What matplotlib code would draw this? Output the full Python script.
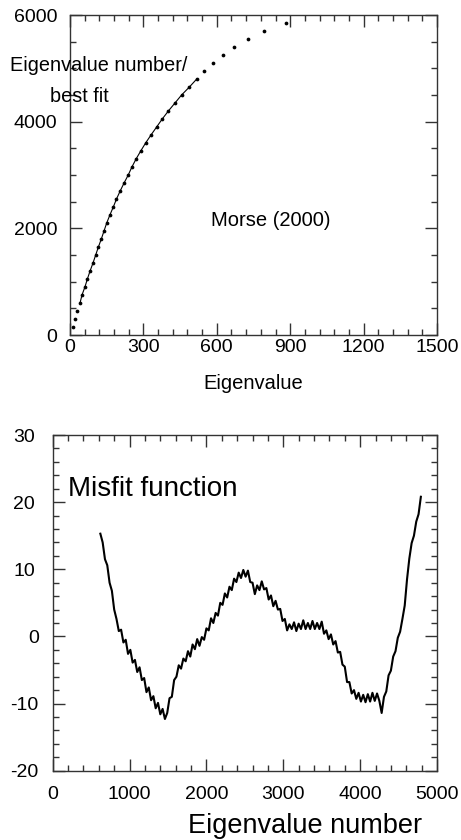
import numpy as np
import matplotlib
matplotlib.use("Agg")
import matplotlib.pyplot as plt
from matplotlib.ticker import MultipleLocator

plt.rcParams['font.family'] = ['Liberation Sans', 'DejaVu Sans']
plt.rcParams['axes.unicode_minus'] = False

# top panel: eigenvalue number vs eigenvalue (Morse 2000)
eig_count = [150, 300, 450, 600, 750, 900, 1050, 1200, 1350, 1500, 1650, 1800, 1950,
             2100, 2250, 2400, 2550, 2700, 2850, 3000, 3150, 3300, 3450, 3600, 3750,
             3900, 4050, 4200, 4350, 4500, 4650, 4800, 4950, 5100, 5250, 5400, 5550,
             5700, 5850]
eig_value = [11, 19, 30, 41, 49, 61, 71, 82, 94, 105, 116, 128, 139, 150, 163, 177,
             190, 205, 221, 238, 253, 270, 289, 309, 331, 354, 377, 402, 429, 456,
             488, 518, 549, 586, 624, 671, 726, 792, 883]
fit_first, fit_last = 3, 32   # best fit drawn over these points

# bottom panel: misfit function vs eigenvalue number
mis_n = np.arange(620, 4791, 30)
misfit = [15.3, 14.0, 11.5, 10.6, 8.0, 6.8, 4.0, 2.6, 0.8, 1.0,
          -0.9, -0.5, -2.6, -2.0, -3.9, -3.5, -5.3, -4.6, -6.5, -6.2,
          -8.3, -7.6, -9.5, -8.9, -10.7, -9.9, -11.6, -10.8, -12.3, -11.4,
          -9.2, -9.0, -6.5, -6.0, -4.3, -4.8, -3.3, -3.7, -2.2, -3.0,
          -1.2, -1.9, -0.4, -1.4, -0.1, -0.5, 1.2, 0.9, 2.7, 2.0,
          3.5, 3.1, 5.0, 4.7, 6.4, 5.8, 7.4, 6.9, 8.6, 8.1,
          9.5, 8.7, 9.9, 8.9, 9.8, 8.1, 8.0, 6.3, 7.6, 6.9,
          8.2, 7.0, 7.2, 5.5, 6.1, 4.5, 5.3, 4.0, 4.1, 2.3,
          2.6, 0.9, 1.8, 1.1, 2.1, 0.8, 1.9, 1.1, 2.4, 1.1,
          2.0, 1.1, 2.3, 1.1, 2.0, 1.1, 2.2, 0.4, 0.9, -0.4,
          0.3, -1.2, -0.7, -2.4, -2.3, -4.2, -4.5, -6.8, -6.8, -8.5,
          -8.0, -9.3, -8.4, -9.7, -8.7, -9.8, -8.6, -9.7, -8.4, -9.6,
          -8.5, -9.6, -11.4, -9.0, -8.2, -5.8, -5.1, -3.0, -2.2, -0.2,
          0.7, 2.6, 4.6, 8.5, 11.6, 13.9, 15.0, 17.1, 18.2, 20.8]

W, H = 461, 840
fig = plt.figure(figsize=(W / 100, H / 100), dpi=100)


def style(ax):
    for s in ax.spines.values():
        s.set_linewidth(1.0)
        s.set_color('#333333')
    ax.tick_params(which='both', direction='in', top=True, right=True,
                   color='#333333', width=1.0)
    ax.tick_params(which='major', length=8.5)
    ax.tick_params(which='minor', length=4.5)


# ---- top
ax1 = fig.add_axes([70 / W, 1 - 335 / H, 367 / W, 320 / H])
ax1.plot(eig_value[fit_first:fit_last], eig_count[fit_first:fit_last], color='black', lw=0.8)
ax1.plot(eig_value, eig_count, 'o', color='black', ms=2.7, mec='none')
ax1.set_xlim(0, 1500)
ax1.set_ylim(0, 6000)
ax1.xaxis.set_major_locator(MultipleLocator(300))
ax1.xaxis.set_minor_locator(MultipleLocator(60))
ax1.yaxis.set_major_locator(MultipleLocator(2000))
ax1.yaxis.set_minor_locator(MultipleLocator(500))
style(ax1)
ax1.tick_params(axis='x', which='major', labelsize=14, pad=3)
ax1.tick_params(axis='y', which='major', labelsize=14, pad=9)

fig.text(10 / W, 1 - 70.7 / H, 'Eigenvalue number/', fontsize=14.3, va='baseline')
fig.text(50 / W, 1 - 101.7 / H, 'best fit', fontsize=14.3, va='baseline')
fig.text(211 / W, 1 - 225.7 / H, 'Morse (2000)', fontsize=14.5, va='baseline')
fig.text(253 / W, 1 - 384 / H, 'Eigenvalue', fontsize=14.5, ha='center', va='center')

# ---- bottom
ax2 = fig.add_axes([52.7 / W, 1 - 770.7 / H, 384.3 / W, 335.7 / H])
ax2.plot(mis_n, misfit, color='black', lw=1.5)
ax2.set_xlim(0, 5000)
ax2.set_ylim(-20, 30)
ax2.xaxis.set_major_locator(MultipleLocator(1000))
ax2.xaxis.set_minor_locator(MultipleLocator(200))
ax2.yaxis.set_major_locator(MultipleLocator(10))
ax2.yaxis.set_minor_locator(MultipleLocator(2))
style(ax2)
ax2.tick_params(axis='x', which='major', labelsize=14, pad=11)
ax2.tick_params(axis='y', which='major', labelsize=14, pad=20.5)
for lab in ax2.get_yticklabels():
    lab.set_horizontalalignment('center')
for t in ax2.yaxis.get_major_ticks():
    if abs(t.get_loc()) < 1e-9:
        t.label1.set_x(0.024)

fig.text(68 / W, 1 - 496 / H, 'Misfit function', fontsize=20, va='baseline')
fig.text(305 / W, 1 - 826 / H, 'Eigenvalue number', fontsize=19.5, ha='center', va='center')

fig.savefig('out.png', dpi=100)
